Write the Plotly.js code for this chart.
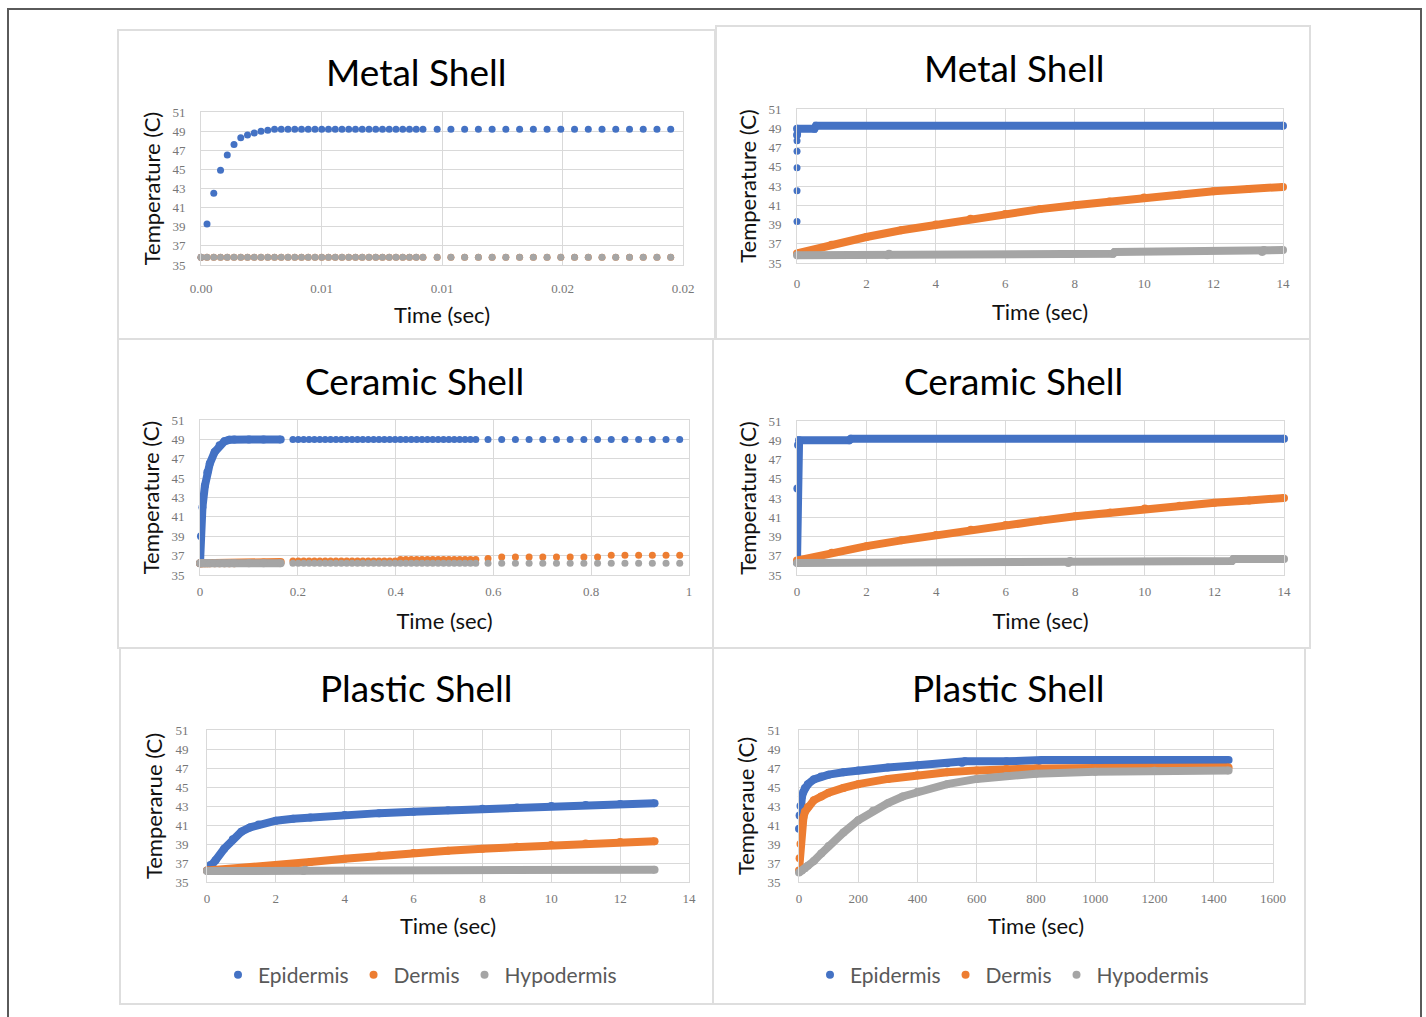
<!DOCTYPE html>
<html>
<head>
<meta charset="utf-8">
<script src="https://cdn.plot.ly/plotly-3.0.1.min.js"></script>
<style>html,body{margin:0;padding:0;background:#fff;}#chart{width:1426px;height:1017px;}</style>
</head>
<body>
<div id="chart"></div>
<script>
// ---------------- DATA ----------------
const seriesNames = ['Epidermis', 'Dermis', 'Hypodermis'];
const panelTitles = ['Metal Shell', 'Metal Shell', 'Ceramic Shell', 'Ceramic Shell', 'Plastic Shell', 'Plastic Shell'];
const yTitles = ['Temperature (C)', 'Temperature (C)', 'Temperature (C)', 'Temperature (C)', 'Temperarue (C)', 'Temperaue (C)'];
const xTitle = 'Time (sec)';

// Panel 1: Metal shell, 0 - 0.02 s
const p1TickVals = [0, 0.005, 0.01, 0.015, 0.02];
const p1TickText = ['0.00', '0.01', '0.01', '0.02', '0.02'];
const p1Time = [0, 0.00025, 0.00053, 0.00081, 0.00109, 0.00137, 0.00165, 0.00193, 0.00221, 0.00249,
  0.00277, 0.00305, 0.00333, 0.00361, 0.00389, 0.00417, 0.00445, 0.00473, 0.00501, 0.00529,
  0.00557, 0.00585, 0.00613, 0.00641, 0.00669, 0.00697, 0.00725, 0.00753, 0.00781, 0.00809,
  0.00837, 0.00865, 0.00893, 0.00921,
  0.0098, 0.01037, 0.01094, 0.01151, 0.01208, 0.01265, 0.01322, 0.01379, 0.01436, 0.01493,
  0.0155, 0.01607, 0.01664, 0.01721, 0.01778, 0.01835, 0.01892, 0.01949];
const p1Epidermis = [35.8, 39.3, 42.5, 44.9, 46.5, 47.6, 48.3, 48.6, 48.8, 49.0,
  49.1, 49.2, 49.2, 49.2, 49.2, 49.2, 49.2, 49.2, 49.2, 49.2,
  49.2, 49.2, 49.2, 49.2, 49.2, 49.2, 49.2, 49.2, 49.2, 49.2,
  49.2, 49.2, 49.2, 49.2,
  49.2, 49.2, 49.2, 49.2, 49.2, 49.2, 49.2, 49.2, 49.2, 49.2,
  49.2, 49.2, 49.2, 49.2, 49.2, 49.2, 49.2, 49.2];
const p1Dermis = [35.8, 35.8, 35.8, 35.8, 35.8, 35.8, 35.8, 35.8, 35.8, 35.8,
  35.8, 35.8, 35.8, 35.8, 35.8, 35.8, 35.8, 35.8, 35.8, 35.8,
  35.8, 35.8, 35.8, 35.8, 35.8, 35.8, 35.8, 35.8, 35.8, 35.8,
  35.8, 35.8, 35.8, 35.8,
  35.8, 35.8, 35.8, 35.8, 35.8, 35.8, 35.8, 35.8, 35.8, 35.8,
  35.8, 35.8, 35.8, 35.8, 35.8, 35.8, 35.8, 35.8];
const p1Hypodermis = [35.8, 35.8, 35.8, 35.8, 35.8, 35.8, 35.8, 35.8, 35.8, 35.8,
  35.8, 35.8, 35.8, 35.8, 35.8, 35.8, 35.8, 35.8, 35.8, 35.8,
  35.8, 35.8, 35.8, 35.8, 35.8, 35.8, 35.8, 35.8, 35.8, 35.8,
  35.8, 35.8, 35.8, 35.8,
  35.8, 35.8, 35.8, 35.8, 35.8, 35.8, 35.8, 35.8, 35.8, 35.8,
  35.8, 35.8, 35.8, 35.8, 35.8, 35.8, 35.8, 35.8];

// Panel 2: Metal shell, 0 - 14 s
const p2EpiStartTime = [0.00025, 0.0005, 0.00075, 0.001, 0.00125];
const p2EpiStart = [39.3, 42.5, 44.9, 46.6, 47.7];
const p2EpiTime = [0.0015, 0.002, 0.5, 0.55, 14];
const p2Epidermis = [48.3, 48.95, 48.95, 49.25, 49.25];
const p2DerTime = [0, 1, 2, 3, 4, 5, 6, 7, 8, 9, 10, 11, 12, 13, 14];
const p2Dermis = [36.0, 36.9, 37.7, 38.4, 39.0, 39.6, 40.1, 40.6, 41.0, 41.4, 41.8, 42.1, 42.45, 42.7, 42.9];
const p2HypTime = [0, 2.6, 2.65, 9.1, 9.15, 13.4, 13.45, 14];
const p2Hypodermis = [35.8, 35.8, 35.95, 35.95, 36.15, 36.15, 36.35, 36.35];

// Panel 3: Ceramic shell, 0 - 1 s
const p3DenseTime = [0, 0.002, 0.005, 0.01, 0.015, 0.02, 0.03, 0.04, 0.05, 0.06, 0.07, 0.1, 0.13, 0.165];
const p3DenseEpidermis = [36.2, 39.0, 42.0, 44.2, 45.6, 46.5, 47.7, 48.4, 48.8, 48.95, 49.0, 49.0, 49.0, 49.0];
const p3DenseDermis = [36.2, 36.2, 36.2, 36.2, 36.2, 36.2, 36.2, 36.2, 36.2, 36.2, 36.2, 36.25, 36.3, 36.35];
const p3DenseHypodermis = [36.2, 36.2, 36.2, 36.2, 36.2, 36.2, 36.2, 36.2, 36.2, 36.2, 36.2, 36.2, 36.2, 36.2];
const p3DotTime = [0.19, 0.201, 0.212, 0.223, 0.234, 0.245, 0.256, 0.267, 0.278, 0.289,
  0.3, 0.311, 0.322, 0.333, 0.344, 0.355, 0.366, 0.377, 0.388, 0.399,
  0.41, 0.421, 0.432, 0.443, 0.454, 0.465, 0.476, 0.487, 0.498, 0.509,
  0.52, 0.531, 0.542, 0.553, 0.564,
  0.589, 0.617, 0.645, 0.673, 0.701, 0.729, 0.757, 0.785, 0.813, 0.841,
  0.869, 0.897, 0.925, 0.953, 0.981];
const p3DotEpidermis = [49.0, 49.0, 49.0, 49.0, 49.0, 49.0, 49.0, 49.0, 49.0, 49.0,
  49.0, 49.0, 49.0, 49.0, 49.0, 49.0, 49.0, 49.0, 49.0, 49.0,
  49.0, 49.0, 49.0, 49.0, 49.0, 49.0, 49.0, 49.0, 49.0, 49.0,
  49.0, 49.0, 49.0, 49.0, 49.0,
  49.0, 49.0, 49.0, 49.0, 49.0, 49.0, 49.0, 49.0, 49.0, 49.0,
  49.0, 49.0, 49.0, 49.0, 49.0];
const p3DotDermis = [36.45, 36.45, 36.45, 36.45, 36.45, 36.45, 36.45, 36.45, 36.45, 36.45,
  36.45, 36.45, 36.45, 36.45, 36.45, 36.45, 36.45, 36.45, 36.45, 36.45,
  36.6, 36.6, 36.6, 36.6, 36.6, 36.6, 36.6, 36.6, 36.6, 36.6,
  36.6, 36.6, 36.6, 36.6, 36.6,
  36.7, 36.85, 36.85, 36.85, 36.85, 36.85, 36.85, 36.85, 36.85, 37.05,
  37.05, 37.05, 37.05, 37.05, 37.05];
const p3DotHypodermis = [36.2, 36.2, 36.2, 36.2, 36.2, 36.2, 36.2, 36.2, 36.2, 36.2,
  36.2, 36.2, 36.2, 36.2, 36.2, 36.2, 36.2, 36.2, 36.2, 36.2,
  36.2, 36.2, 36.2, 36.2, 36.2, 36.2, 36.2, 36.2, 36.2, 36.2,
  36.2, 36.2, 36.2, 36.2, 36.2,
  36.2, 36.2, 36.2, 36.2, 36.2, 36.2, 36.2, 36.2, 36.2, 36.2,
  36.2, 36.2, 36.2, 36.2, 36.2];

// Panel 4: Ceramic shell, 0 - 14 s
const p4EpiTime = [0, 0.01, 0.03, 0.06, 1.5, 1.55, 14];
const p4Epidermis = [36.3, 44.0, 48.5, 49.0, 49.0, 49.15, 49.15];
const p4DerTime = [0, 1, 2, 3, 4, 5, 6, 7, 8, 9, 10, 11, 12, 13, 14];
const p4Dermis = [36.5, 37.3, 38.0, 38.6, 39.15, 39.7, 40.2, 40.65, 41.1, 41.5, 41.9, 42.2, 42.5, 42.75, 43.0];
const p4HypTime = [0, 7.8, 7.85, 12.5, 12.55, 14];
const p4Hypodermis = [36.25, 36.25, 36.45, 36.45, 36.65, 36.65];

// Panel 5: Plastic shell, 0 - 13 s
const p5EpiTime = [0, 0.1, 0.25, 0.5, 0.75, 1, 1.25, 1.5, 2, 2.5, 3, 4, 5, 6, 7, 8, 9, 10, 11, 12, 13];
const p5Epidermis = [36.2, 36.8, 37.3, 38.5, 39.5, 40.3, 40.75, 41.05, 41.45, 41.65, 41.8, 42.05, 42.25, 42.4, 42.55, 42.7, 42.85, 43.0, 43.1, 43.2, 43.3];
const p5DerTime = [0, 1, 2, 3, 4, 5, 6, 7, 8, 9, 10, 11, 12, 13];
const p5Dermis = [36.2, 36.45, 36.75, 37.1, 37.45, 37.8, 38.05, 38.3, 38.5, 38.7, 38.9, 39.05, 39.2, 39.3];
const p5HypTime = [0, 2.8, 2.85, 13];
const p5Hypodermis = [36.15, 36.15, 36.3, 36.3];

// Panel 6: Plastic shell, 0 - 1450 s
const p6EpiTime = [0, 2, 5, 10, 15, 20, 30, 50, 75, 100, 150, 200, 300, 400, 500, 550, 560, 700, 810, 820, 1450];
const p6Epidermis = [40.6, 42.0, 43.0, 44.0, 44.5, 44.9, 45.3, 45.8, 46.1, 46.3, 46.55, 46.75, 47.05, 47.3, 47.5, 47.55, 47.7, 47.7, 47.75, 47.85, 47.85];
const p6DerTime = [0, 2, 5, 10, 15, 20, 30, 50, 75, 100, 150, 200, 300, 400, 500, 600, 700, 800, 1000, 1200, 1450];
const p6Dermis = [36.2, 37.5, 39.0, 40.8, 41.8, 42.4, 42.9, 43.6, 44.0, 44.4, 44.9, 45.3, 45.85, 46.25, 46.55, 46.75, 46.9, 46.95, 47.0, 47.0, 47.05];
const p6HypTime = [0, 10, 20, 30, 50, 75, 100, 150, 200, 250, 300, 350, 400, 500, 600, 700, 800, 1000, 1200, 1450];
const p6Hypodermis = [36.0, 36.2, 36.45, 36.7, 37.2, 38.0, 38.8, 40.2, 41.5, 42.5, 43.3, 44.0, 44.5, 45.3, 45.85, 46.15, 46.4, 46.6, 46.7, 46.75];

// ---------------- STYLE / LAYOUT ----------------
const W = 1426, H = 1017;
const colors = {Epidermis: '#4472C4', Dermis: '#ED7D31', Hypodermis: '#A5A5A5'};
const fx = p => p / W;
const fy = p => 1 - p / H;

// plot-area boxes in pixels; xs/ys = tick label standoff, xt/yt = axis title standoff
const boxes = [
  {x0: 201, x1: 683, y0: 112, y1: 265, xs: 11, ys: 12, xt: 13, yt: 5},
  {x0: 797, x1: 1283, y0: 109, y1: 263, xs: 8, ys: 12, xt: 15, yt: 5},
  {x0: 200, x1: 689, y0: 420, y1: 575, xs: 4, ys: 12, xt: 16, yt: 5},
  {x0: 797, x1: 1284, y0: 421, y1: 575, xs: 4, ys: 12, xt: 16, yt: 5},
  {x0: 207, x1: 689, y0: 730, y1: 882, xs: 4, ys: 15, xt: 14, yt: 6},
  {x0: 799, x1: 1273, y0: 730, y1: 882, xs: 4, ys: 15, xt: 14, yt: 6}
];
const panels = [
  [118, 715, 30, 339], [716, 1310, 26, 339],
  [118, 713, 339, 648], [713, 1310, 339, 648],
  [120, 713, 648, 1004], [713, 1305, 648, 1004]
];
const titlePos = [[416, 71], [1014, 67], [415, 380], [1013, 380], [416, 687], [1008, 687]];
const xRanges = [[0, 0.02], [0, 14], [0, 1], [0, 14], [0, 14], [0, 1600]];
const xDticks = [0.005, 2, 0.2, 2, 2, 200];

function ax(i) { return i === 1 ? '' : String(i); }

function band(x, y, name, i) {
  return {type: 'scatter', mode: 'lines+markers', x: x, y: y, name: name,
    xaxis: 'x' + ax(i), yaxis: 'y' + ax(i), showlegend: false, cliponaxis: false,
    line: {color: colors[name], width: 8}, marker: {color: colors[name], size: 8}, hoverinfo: 'skip'};
}
function dots(x, y, name, i, size) {
  return {type: 'scatter', mode: 'markers', x: x, y: y, name: name,
    xaxis: 'x' + ax(i), yaxis: 'y' + ax(i), showlegend: false, cliponaxis: false,
    marker: {color: colors[name], size: size || 7}, hoverinfo: 'skip'};
}
function legendItem(name, i, leg) {
  return {type: 'scatter', mode: 'markers', x: [null], y: [null], name: name,
    xaxis: 'x' + ax(i), yaxis: 'y' + ax(i), showlegend: true, legend: leg,
    marker: {color: colors[name], size: 8}};
}

const traces = [
  dots(p1Time, p1Epidermis, 'Epidermis', 1),
  dots(p1Time, p1Dermis, 'Dermis', 1),
  dots(p1Time, p1Hypodermis, 'Hypodermis', 1),

  dots(p2EpiStartTime, p2EpiStart, 'Epidermis', 2),
  band(p2EpiTime, p2Epidermis, 'Epidermis', 2),
  band(p2DerTime, p2Dermis, 'Dermis', 2),
  band(p2HypTime, p2Hypodermis, 'Hypodermis', 2),

  band(p3DenseTime, p3DenseEpidermis, 'Epidermis', 3),
  dots(p3DotTime, p3DotEpidermis, 'Epidermis', 3),
  band(p3DenseTime, p3DenseDermis, 'Dermis', 3),
  dots(p3DotTime, p3DotDermis, 'Dermis', 3),
  band(p3DenseTime, p3DenseHypodermis, 'Hypodermis', 3),
  dots(p3DotTime, p3DotHypodermis, 'Hypodermis', 3),

  band(p4EpiTime, p4Epidermis, 'Epidermis', 4),
  band(p4DerTime, p4Dermis, 'Dermis', 4),
  band(p4HypTime, p4Hypodermis, 'Hypodermis', 4),

  band(p5EpiTime, p5Epidermis, 'Epidermis', 5),
  band(p5DerTime, p5Dermis, 'Dermis', 5),
  band(p5HypTime, p5Hypodermis, 'Hypodermis', 5),

  band(p6EpiTime, p6Epidermis, 'Epidermis', 6),
  band(p6DerTime, p6Dermis, 'Dermis', 6),
  band(p6HypTime, p6Hypodermis, 'Hypodermis', 6)
];
seriesNames.forEach(n => traces.push(legendItem(n, 5, 'legend')));
seriesNames.forEach(n => traces.push(legendItem(n, 6, 'legend2')));

const tickFont = {family: 'Liberation Serif, serif', size: 13, color: '#777777'};
const axTitleFont = {family: 'Lato, sans-serif', size: 22, color: '#111111'};
const gridColor = '#d9d9d9';

const layout = {
  width: W, height: H,
  margin: {l: 0, r: 0, t: 0, b: 0, pad: 0},
  paper_bgcolor: '#ffffff', plot_bgcolor: '#ffffff',
  font: {family: 'Lato, sans-serif'},
  hovermode: false,
  shapes: [], annotations: []
};

for (let k = 0; k < 6; k++) {
  const i = k + 1, b = boxes[k];
  const xa = {
    domain: [fx(b.x0), fx(b.x1)], range: xRanges[k], anchor: 'y' + ax(i),
    dtick: xDticks[k], tick0: 0, showgrid: true, gridcolor: gridColor, gridwidth: 1,
    zeroline: false, showline: true, linecolor: gridColor, linewidth: 1, mirror: true,
    ticks: '', tickfont: tickFont, ticklabelstandoff: b.xs, automargin: false,
    title: {text: xTitle, font: axTitleFont, standoff: b.xt}
  };
  if (k === 0) { xa.tickmode = 'array'; xa.tickvals = p1TickVals; xa.ticktext = p1TickText; }
  const ya = {
    domain: [fy(b.y1), fy(b.y0)], range: [35, 51], anchor: 'x' + ax(i),
    dtick: 2, tick0: 35, showgrid: true, gridcolor: gridColor, gridwidth: 1,
    zeroline: false, showline: true, linecolor: gridColor, linewidth: 1, mirror: true,
    ticks: '', tickfont: tickFont, ticklabelstandoff: b.ys, automargin: false,
    title: {text: yTitles[k], font: axTitleFont, standoff: b.yt}
  };
  layout['xaxis' + ax(i)] = xa;
  layout['yaxis' + ax(i)] = ya;

  const p = panels[k];
  layout.shapes.push({type: 'rect', xref: 'paper', yref: 'paper', layer: 'below',
    x0: fx(p[0]), x1: fx(p[1]), y0: fy(p[3]), y1: fy(p[2]),
    line: {color: '#dedede', width: 2}, fillcolor: 'rgba(0,0,0,0)'});

  layout.annotations.push({xref: 'paper', yref: 'paper', x: fx(titlePos[k][0]), y: fy(titlePos[k][1]),
    xanchor: 'center', yanchor: 'middle', showarrow: false, text: panelTitles[k],
    font: {family: 'Lato, sans-serif', size: 37, color: '#000000'}});
}
// outer frame
layout.shapes.push({type: 'rect', xref: 'paper', yref: 'paper', layer: 'above',
  x0: fx(8), x1: fx(1421), y0: -0.02, y1: fy(9),
  line: {color: '#5a5a5a', width: 2}, fillcolor: 'rgba(0,0,0,0)'});

const legendBase = {orientation: 'h', xanchor: 'center', yanchor: 'middle', y: fy(975),
  font: {family: 'Lato, sans-serif', size: 21, color: '#595959'},
  bgcolor: 'rgba(0,0,0,0)', itemwidth: 30, traceorder: 'normal'};
layout.legend = Object.assign({}, legendBase, {x: fx(420)});
layout.legend2 = Object.assign({}, legendBase, {x: fx(1012)});

Plotly.newPlot('chart', traces, layout, {staticPlot: true, displayModeBar: false});
</script>
</body>
</html>
